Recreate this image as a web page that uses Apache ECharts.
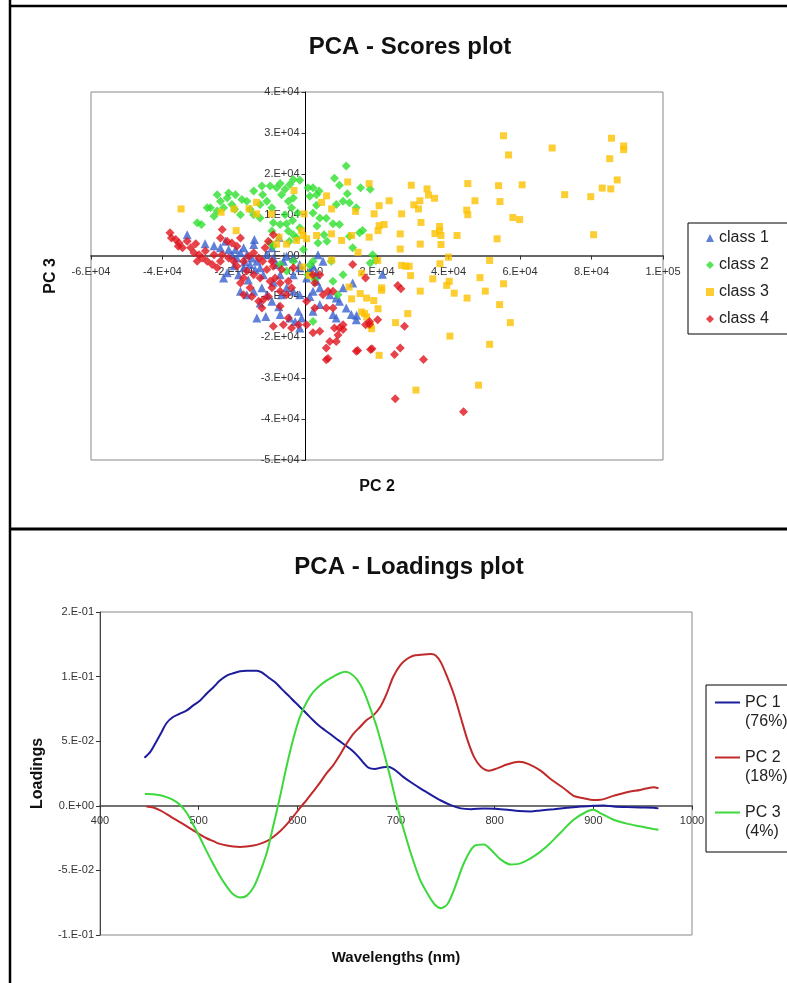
<!DOCTYPE html>
<html>
<head>
<meta charset="utf-8">
<title>PCA plots</title>
<script src="https://cdn.jsdelivr.net/npm/echarts@6/dist/echarts.min.js"></script>
<style>
	html, body { margin: 0; padding: 0; background: #fff; }
	#chart { width: 787px; height: 983px; }
</style>
</head>
<body>
<div id="chart"></div>
<script>
// scores, in thousands: [PC 2, PC 3]
var class1Pts = [[-14.3,3.9],[-7.4,4.5],[-33.1,5.1],[-28.1,2.9],[-25.6,2.4],[-23.8,1.9],[-21.5,1.5],[-19.6,1.5],[-18.2,0.7],[-20.6,0.2],[-19.2,-0.6],[-17.3,1.9],[-16.4,0.2],[-15,-0.6],[-13.6,-1.4],[-12.7,-3],[-11.8,-4.7],[-14.1,-3.4],[-15.5,-2.2],[-17.3,-3],[-18.7,-4.7],[-22.9,-5.5],[-21.9,-4.2],[-18.2,-8.7],[-16.4,-9.6],[-14.5,-8.7],[-12.2,-7.9],[-10.8,-9.6],[-9.4,-11.2],[-12.7,-11.6],[-13.6,-15.3],[-11.1,-14.9],[-7.1,-14.4],[-4.4,-15.3],[-2.9,-16.1],[-1.6,-17.7],[-1.1,-15.3],[-2,-13.6],[-6.7,-9.6],[-5.3,-7.9],[-3.4,-8.7],[-1.6,-9.6],[1.2,-10],[2.1,-8.7],[4,-7.9],[3.1,-6.3],[0.3,-5.5],[1.2,-3.8],[2.1,-2.6],[-1.6,-3],[-3.4,-4.7],[-7.1,-4.7],[-8.1,-2.2],[-6.2,-1.4],[-10.8,0.2],[-9,-0.6],[-5.3,-0.2],[-3.4,-0.6],[-1.6,-2.2],[6.8,-9.6],[8.6,-10.4],[10.5,-7.9],[11.4,-12.8],[12.8,-14.4],[14.2,-15.7],[8.6,-15.3],[4,-12],[3.1,-4.7],[3.5,0.2],[4.9,-1.4],[-14.5,2.7],[-9.4,1.9],[13.2,-6.7],[9.5,-11.2],[2.1,-13.6],[-22.4,3.5],[7.7,-14.4],[21.5,-4.6],[14.3,-14.6],[-17,-1.5],[-20,-2.5],[-16,-6],[-9,-6.5],[-7.5,-12.5]];
var class2Pts = [[11.4,21.9],[8.1,18.9],[9.5,17.2],[11.7,15.1],[15.4,16.6],[18.1,16.2],[14.2,11.7],[16,6.1],[12.3,12.9],[10.5,13.3],[8.6,12.5],[7.7,7.8],[9.5,7.6],[5.8,9.1],[6,3.5],[3.5,3.1],[5.2,5.1],[3.2,7.2],[4,9.2],[2.1,10.4],[3.1,12.3],[1.2,14.5],[0.7,16.6],[2.1,16.6],[3.8,15.8],[3.1,14.9],[-1.6,18.4],[-3.4,18.6],[-4.4,17.4],[-5.7,16.2],[-7.1,17.6],[-8.1,16.6],[-9.9,17],[-12.2,17],[-12,14.9],[-14.5,15.8],[-16.4,13.3],[-15.5,11.3],[-17.8,13.7],[-19.6,14.9],[-21.5,15.3],[-21.9,14.1],[-23.8,13.3],[-24.7,14.9],[-26.6,11.7],[-27.5,11.7],[-24.7,10.9],[-25.6,9.6],[-22.9,11.7],[-20.6,12.5],[-19.8,11.3],[-18.2,10],[-30.3,8],[-29.1,7.6],[-10.8,13.3],[-9.4,11.7],[-6.7,14.9],[-4.8,13.3],[-3.4,14.1],[-3.9,11.7],[-5.7,10],[-5.3,7.8],[-7.1,7.6],[-9,8],[-9.4,6],[-3.4,5.1],[-4.5,3.5],[-2.5,4.3],[-1.6,6.8],[-3.6,8.6],[-2.2,10.4],[-9.9,3.1],[-9,2.3],[2.1,-1.4],[1.2,-2.4],[0.7,-4.7],[2.6,-5.9],[7.7,-6.3],[10.5,-4.7],[9.1,-9.6],[2.1,-16.1],[-3.4,-1.4],[18.8,0.2],[19.7,-1.2],[18.1,-1.8],[-7.1,-2.2],[-5.3,-3.8],[13.2,1.9],[7.2,-1.4],[12.3,4.7],[15.1,5.6],[-0.6,1.5],[-4.8,6],[-12.7,9.2],[-14.5,10],[-12.7,12.5]];
var class3Pts = [[55.4,29.3],[56.8,24.6],[69,26.3],[85.6,28.7],[89,26.8],[89,25.9],[85.1,23.7],[87.2,18.5],[83,16.5],[85.4,16.3],[72.5,14.9],[79.8,14.4],[80.6,5.1],[60.6,17.3],[54,17.1],[54.4,13.2],[45.4,17.6],[47.4,13.4],[45.1,11.1],[45.4,10],[58,9.3],[59.9,8.8],[53.6,4.1],[42.4,4.9],[51.5,-1.2],[55.4,-6.9],[54.3,-12],[57.3,-16.4],[50.3,-8.7],[48.8,-5.4],[45.2,-10.4],[41.6,-9.2],[40.2,-6.3],[39.5,-7.3],[40,-0.4],[40.4,-19.7],[51.5,-21.7],[48.4,-31.7],[30.9,-32.9],[20.6,-24.4],[28.6,-14.2],[25.2,-16.4],[35.6,-5.7],[32.1,-8.7],[29.4,-4.9],[29,-2.6],[28,-2.6],[26.9,-2.4],[26.5,1.6],[26.5,5.3],[26.9,10.2],[29.6,17.2],[30.3,12.4],[32,13.4],[31.6,11.4],[32.3,8.1],[32.1,2.8],[34,16.3],[34.4,14.8],[36.1,14],[37.5,7.1],[37.5,6.1],[37.9,4.9],[37.9,2.7],[37.6,-2],[36.2,5.4],[23.4,13.4],[20.6,12.2],[19.2,10.2],[20.6,7.3],[20.3,6.1],[22,7.6],[17.8,17.6],[11.8,18],[14,10.8],[17.8,4.5],[14.7,0.8],[20.2,-1.2],[15.7,-4.3],[15.3,-9.3],[17.1,-10.4],[19.1,-11],[21.3,-8.5],[20.3,-13],[15.7,-13.8],[16.5,-14.2],[18.2,-17.1],[18.5,-17.9],[12.9,-10.6],[12.2,-7.7],[7.3,-1.1],[10.1,3.7],[12.9,4.9],[7.3,5.3],[3.1,4.9],[0.3,4.1],[-0.7,4.9],[-1.1,6.1],[-2.5,3.7],[-5.3,2.8],[-8.1,2.8],[-7.4,4.5],[5.9,14.6],[4.5,13],[7.3,11.4],[-0.4,10.2],[-3.2,15.9],[-9.5,10.2],[-13.7,10.2],[-15.8,11.4],[-19.4,6.1],[-20,11.4],[-23.6,10.6],[-34.8,11.4],[-13.7,13],[1,-4.9],[-0.8,-2.8],[17.1,-15],[21.3,-7.9]];
var class4Pts = [[-37.9,5.6],[-37.5,4.3],[-36.3,3.9],[-35.4,3.1],[-35.6,2.3],[-34.4,1.9],[-33.1,3.5],[-32.1,1.9],[-31.2,0.7],[-30.7,2.9],[-29.8,0.2],[-30.3,-1.4],[-28.9,-0.6],[-28,1.1],[-27.5,-1.4],[-26.1,-2.2],[-24.7,-3],[-23.8,-1.4],[-23.3,0.2],[-25.6,0.2],[-23.8,4.3],[-23.3,6.4],[-21.9,3.5],[-20.6,3.1],[-19.2,2.3],[-18.2,4.3],[-21.5,-0.6],[-20.1,-1.4],[-19.2,-2.6],[-17.3,-1.4],[-15.9,-0.2],[-14.5,0.7],[-13.1,-0.6],[-12,-1.4],[-16.4,-3.8],[-14.5,-4.7],[-12.7,-5.5],[-17.3,-5.5],[-18.2,-6.7],[-17.3,-9.6],[-15,-10],[-15.5,-7.9],[-13.1,-11.2],[-12.2,-12.8],[-11.8,-10.8],[-10.4,-10],[-9.4,-7.9],[-9.9,-6.3],[-8.5,-5.5],[-7.1,-6.7],[-7.1,-8.7],[-5.3,-9.6],[-3.9,-7.9],[-4.8,-6.3],[-3.4,-3],[-6.7,-3.4],[-9,-2.6],[-10.8,-3.4],[-9.4,-1.4],[-9,5.1],[-10.4,3.5],[-11.3,1.9],[-7.1,-12.4],[-9,-17.3],[-6.2,-16.9],[-4.8,-15.3],[-3.9,-17.7],[-2,-16.9],[0.3,-16.9],[2.1,-18.9],[4,-18.5],[5.8,-22.6],[5.8,-25.5],[6.8,-21],[8.6,-21],[9.1,-19.4],[8.1,-17.7],[9.5,-17.7],[10.5,-18.1],[10.5,-16.9],[7.7,-12.8],[5.8,-12.8],[4.9,-9.6],[6.3,-8.7],[7.7,-8.7],[2.6,-12.8],[2.6,-6.7],[4,-4.7],[2.1,-4.7],[0.3,-11.2],[14.2,-23.4],[13.2,-2.2],[18.2,-23],[16.8,-5.5],[17.9,-16.1],[16.8,-16.9],[25.8,-7.3],[26.7,-8.1],[20.2,-15.7],[27.7,-17.3],[18.6,-22.8],[24.9,-24.2],[26.5,-22.6],[33,-25.4],[25.1,-35],[44.2,-38.2],[17.9,-16.8],[14.6,-23.2],[6.3,-25.2]];

// loadings: [wavelength nm, loading]
var pc1Pts = [[445,0.0372],[451,0.0418],[456,0.0482],[462.5,0.0572],[467.5,0.0641],[474,0.0687],[481,0.0713],[488,0.0738],[494.5,0.0777],[501.5,0.0815],[508,0.0867],[515,0.0918],[521.5,0.0969],[528.5,0.1008],[535,0.1026],[542,0.1041],[548.5,0.1046],[559,0.1046],[564,0.1033],[570.5,0.0995],[577.5,0.0956],[584,0.0905],[591,0.0854],[597.5,0.0803],[604.5,0.0751],[609.5,0.0713],[616,0.0662],[621.5,0.0623],[628,0.0585],[635,0.0546],[641.5,0.0508],[648.5,0.0469],[655,0.0431],[662,0.0379],[667,0.0333],[672,0.0295],[678.5,0.0285],[685.5,0.0297],[692,0.0303],[699,0.0277],[707,0.0226],[715.5,0.018],[725,0.0133],[735.5,0.0085],[745.5,0.0041],[755.5,0.0005],[765.5,-0.002],[776,-0.0026],[789,-0.002],[801,-0.0023],[813,-0.0031],[824.5,-0.0041],[836.5,-0.0044],[846.5,-0.0036],[860,-0.0026],[873.5,-0.0015],[887,-0.0005],[900,0],[910.5,0.0003],[920.5,-0.0005],[934,-0.001],[947.5,-0.0013],[961,-0.0015],[966,-0.002]];
var pc2Pts = [[447,-0.0005],[454,-0.0013],[461,-0.0036],[467.5,-0.0064],[474,-0.0095],[481,-0.0126],[488,-0.0159],[494.5,-0.019],[501.5,-0.0223],[508,-0.0251],[515,-0.0274],[521.5,-0.0295],[528.5,-0.0308],[535,-0.0315],[542,-0.0318],[548.5,-0.0315],[555.5,-0.0308],[562,-0.0295],[569,-0.0274],[575.5,-0.0241],[582.5,-0.0197],[589,-0.0146],[596,-0.0082],[602.5,-0.0018],[609.5,0.0046],[616,0.011],[623,0.0179],[629.5,0.0251],[636.5,0.0315],[643,0.0392],[650,0.0482],[657,0.0559],[663.5,0.061],[670,0.0662],[677,0.07],[684,0.0764],[690.5,0.0867],[697,0.0995],[704,0.1085],[711,0.1136],[717.5,0.1162],[725,0.1169],[735.5,0.1174],[740.5,0.1162],[745.5,0.111],[752,0.0995],[759,0.0854],[765.5,0.0687],[772.5,0.0508],[779,0.0379],[786,0.0303],[794.5,0.0272],[802.5,0.029],[813,0.0321],[824.5,0.0341],[834.5,0.0323],[846.5,0.0272],[858,0.02],[870,0.0136],[880,0.0077],[890,0.0059],[900,0.0044],[907,0.0046],[920.5,0.0077],[934,0.0105],[947.5,0.0123],[961,0.0144],[966,0.0136]];
var pc3Pts = [[445.5,0.0092],[454,0.009],[461,0.0082],[467.5,0.0067],[474,0.0046],[481,0.0008],[488,-0.0056],[494.5,-0.0146],[501.5,-0.0249],[508,-0.0351],[515,-0.0454],[521.5,-0.0544],[528.5,-0.0626],[535,-0.0685],[542,-0.071],[548.5,-0.0697],[555.5,-0.0633],[562,-0.0518],[569,-0.0364],[575.5,-0.0159],[582.5,0.0072],[589,0.0303],[596,0.0521],[602.5,0.0687],[609.5,0.0803],[616,0.0879],[623,0.0931],[629.5,0.0969],[636.5,0.1],[643,0.1026],[648.5,0.1038],[653.5,0.1026],[660,0.0982],[667,0.0892],[673.5,0.0764],[680.5,0.061],[687,0.0431],[694,0.0226],[700.5,0.002],[707.5,-0.0175],[716,-0.039],[724,-0.0565],[732,-0.068],[739,-0.0762],[745.5,-0.0792],[752,-0.0762],[759,-0.0646],[769,-0.0441],[779,-0.0313],[789,-0.03],[796,-0.0338],[806,-0.0415],[816,-0.0454],[826,-0.0446],[840,-0.039],[853,-0.0313],[866.5,-0.021],[880,-0.0108],[893.5,-0.0044],[900,-0.0031],[907,-0.0056],[920.5,-0.0108],[934,-0.0138],[947.5,-0.0159],[961,-0.0179],[966,-0.0185]];

var classNames = ['class 1', 'class 2', 'class 3', 'class 4'];
var pcNames = ['PC 1\n(76%)', 'PC 2\n(18%)', 'PC 3\n(4%)'];

var FONT = 'Liberation Sans, Arial, sans-serif';

// grid boxes (px) and axis ranges
var scoresGrid = { left: 91, top: 92, width: 572, height: 368 };
var loadGrid = { left: 100, top: 612, width: 592, height: 323 };
var scoresX = { min: -60, max: 100, interval: 20 };
var scoresY = { min: -50, max: 40, interval: 10 };
var loadX = { min: 400, max: 1000, interval: 100 };
var loadY = { min: -0.1, max: 0.15, interval: 0.05 };

// Excel style "0.E+00" number format
function excelExp(v) {
	if (Math.abs(v) < 1e-12) return '0.E+00';
	var sign = v < 0 ? -1 : 1;
	var e = Math.floor(Math.log10(Math.abs(v)) + 1e-9);
	var m = Math.round(Math.abs(v) / Math.pow(10, e) + 1e-9);
	if (m >= 10) { m = m / 10; e++; }
	var ae = Math.abs(e);
	return (sign * m) + '.E' + (e < 0 ? '-' : '+') + (ae < 10 ? '0' + ae : ae);
}

// shift an axis from the grid edge to the value 0 of the other axis
function zeroOffset(size, range) {
	return -size * (0 - range.min) / (range.max - range.min);
}

var tickLabel = { fontSize: 11, color: '#333', fontFamily: FONT };
var axisName = { fontSize: 16, fontWeight: 'bold', color: '#111', fontFamily: FONT };

var option = {
	backgroundColor: '#fff',
	animation: false,
	title: [
		{ text: 'PCA - Scores plot', left: 405, top: 30, textAlign: 'center',
			textStyle: { fontSize: 24, fontWeight: 'bold', color: '#111', fontFamily: FONT } },
		{ text: 'PCA - Loadings plot', left: 404, top: 550, textAlign: 'center',
			textStyle: { fontSize: 24, fontWeight: 'bold', color: '#111', fontFamily: FONT } }
	],
	legend: [
		{
			data: [
				{ name: classNames[0], icon: 'triangle' },
				{ name: classNames[1], icon: 'diamond' },
				{ name: classNames[2], icon: 'rect' },
				{ name: classNames[3], icon: 'diamond' }
			],
			orient: 'vertical', left: 688, top: 223,
			padding: [7, 40, 7, 18],
			itemWidth: 8, itemHeight: 8, itemGap: 11,
			borderColor: '#000', borderWidth: 1,
			textStyle: { fontSize: 16, lineHeight: 16, color: '#222', fontFamily: FONT }
		},
		{
			data: [
				{ name: pcNames[0], icon: 'rect' },
				{ name: pcNames[1], icon: 'rect' },
				{ name: pcNames[2], icon: 'rect' }
			],
			// empty first line so the swatch sits beside "PC n"
			formatter: function (name) { return '\n' + name; },
			orient: 'vertical', left: 715, top: 674,
			padding: 0,
			itemWidth: 25, itemHeight: 2, itemGap: -2,
			textStyle: { fontSize: 16, lineHeight: 19, color: '#222', fontFamily: FONT }
		}
	],
	grid: [
		Object.assign({ show: true, borderColor: '#888', borderWidth: 1, outerBoundsMode: 'none' }, scoresGrid),
		Object.assign({ show: true, borderColor: '#888', borderWidth: 1, outerBoundsMode: 'none' }, loadGrid)
	],
	xAxis: [
		{
			gridIndex: 0, type: 'value', min: scoresX.min, max: scoresX.max, interval: scoresX.interval,
			offset: zeroOffset(scoresGrid.height, scoresY),
			name: 'PC 2', nameLocation: 'middle', nameGap: 223, nameTextStyle: axisName, nameMoveOverlap: false,
			axisLine: { onZero: false, lineStyle: { color: '#666', width: 2 } },
			axisTick: { show: true, length: 4, lineStyle: { color: '#333' } },
			axisLabel: Object.assign({ margin: 11, formatter: function (v) { return excelExp(v * 1000); } }, tickLabel),
			splitLine: { show: false }
		},
		{
			gridIndex: 1, type: 'value', min: loadX.min, max: loadX.max, interval: loadX.interval,
			offset: zeroOffset(loadGrid.height, loadY),
			name: 'Wavelengths (nm)', nameLocation: 'middle', nameGap: 145, nameMoveOverlap: false,
			nameTextStyle: Object.assign({}, axisName, { fontSize: 15 }),
			axisLine: { onZero: false, lineStyle: { color: '#444', width: 1.5 } },
			axisTick: { show: true, length: 4, lineStyle: { color: '#333' } },
			axisLabel: Object.assign({ margin: 10, formatter: function (v) { return String(v); } }, tickLabel),
			splitLine: { show: false }
		}
	],
	yAxis: [
		{
			gridIndex: 0, type: 'value', min: scoresY.min, max: scoresY.max, interval: scoresY.interval,
			offset: zeroOffset(scoresGrid.width, scoresX),
			name: 'PC 3', nameLocation: 'middle', nameGap: 247, nameTextStyle: axisName, nameMoveOverlap: false,
			axisLine: { onZero: false, lineStyle: { color: '#000', width: 1 } },
			axisTick: { show: true, length: 4, lineStyle: { color: '#333' } },
			axisLabel: Object.assign({ margin: 6, formatter: function (v) { return excelExp(v * 1000); } }, tickLabel),
			splitLine: { show: false }
		},
		{
			gridIndex: 1, type: 'value', min: loadY.min, max: loadY.max, interval: loadY.interval,
			name: 'Loadings', nameLocation: 'middle', nameGap: 54, nameTextStyle: axisName, nameMoveOverlap: false,
			axisLine: { onZero: false, lineStyle: { color: '#444', width: 1 } },
			axisTick: { show: true, length: 4, lineStyle: { color: '#333' } },
			axisLabel: Object.assign({ margin: 6, formatter: excelExp }, tickLabel),
			splitLine: { show: false }
		}
	],
	graphic: [
		{ type: 'line', shape: { x1: 10, y1: 0, x2: 10, y2: 983 }, style: { stroke: '#000', lineWidth: 2.5 } },
		{ type: 'line', shape: { x1: 10, y1: 6, x2: 787, y2: 6 }, style: { stroke: '#000', lineWidth: 2.5 } },
		{ type: 'line', shape: { x1: 10, y1: 529, x2: 787, y2: 529 }, style: { stroke: '#000', lineWidth: 3 } },
		{ type: 'rect', shape: { x: 706, y: 685, width: 100, height: 167 }, style: { fill: null, stroke: '#000', lineWidth: 1 } }
	],
	series: [
		{ name: classNames[0], type: 'scatter', xAxisIndex: 0, yAxisIndex: 0, symbol: 'triangle', symbolSize: 9,
			itemStyle: { color: '#3a62d0' }, data: class1Pts },
		{ name: classNames[1], type: 'scatter', xAxisIndex: 0, yAxisIndex: 0, symbol: 'diamond', symbolSize: 9,
			itemStyle: { color: '#2ee02e' }, data: class2Pts },
		{ name: classNames[2], type: 'scatter', xAxisIndex: 0, yAxisIndex: 0, symbol: 'rect', symbolSize: 7,
			itemStyle: { color: '#fbc200' }, data: class3Pts },
		{ name: classNames[3], type: 'scatter', xAxisIndex: 0, yAxisIndex: 0, symbol: 'diamond', symbolSize: 9,
			itemStyle: { color: '#e0141e' }, data: class4Pts },
		{ name: pcNames[0], type: 'line', xAxisIndex: 1, yAxisIndex: 1, symbol: 'none', smooth: 0.3,
			lineStyle: { color: '#1c1c9c', width: 2 }, itemStyle: { color: '#1c1c9c' }, data: pc1Pts },
		{ name: pcNames[1], type: 'line', xAxisIndex: 1, yAxisIndex: 1, symbol: 'none', smooth: 0.3,
			lineStyle: { color: '#c02a2a', width: 2 }, itemStyle: { color: '#c02a2a' }, data: pc2Pts },
		{ name: pcNames[2], type: 'line', xAxisIndex: 1, yAxisIndex: 1, symbol: 'none', smooth: 0.3,
			lineStyle: { color: '#3cd83c', width: 2 }, itemStyle: { color: '#3cd83c' }, data: pc3Pts }
	]
};

var myChart = echarts.init(document.getElementById('chart'), null, { renderer: 'canvas' });
myChart.setOption(option);
</script>
</body>
</html>
